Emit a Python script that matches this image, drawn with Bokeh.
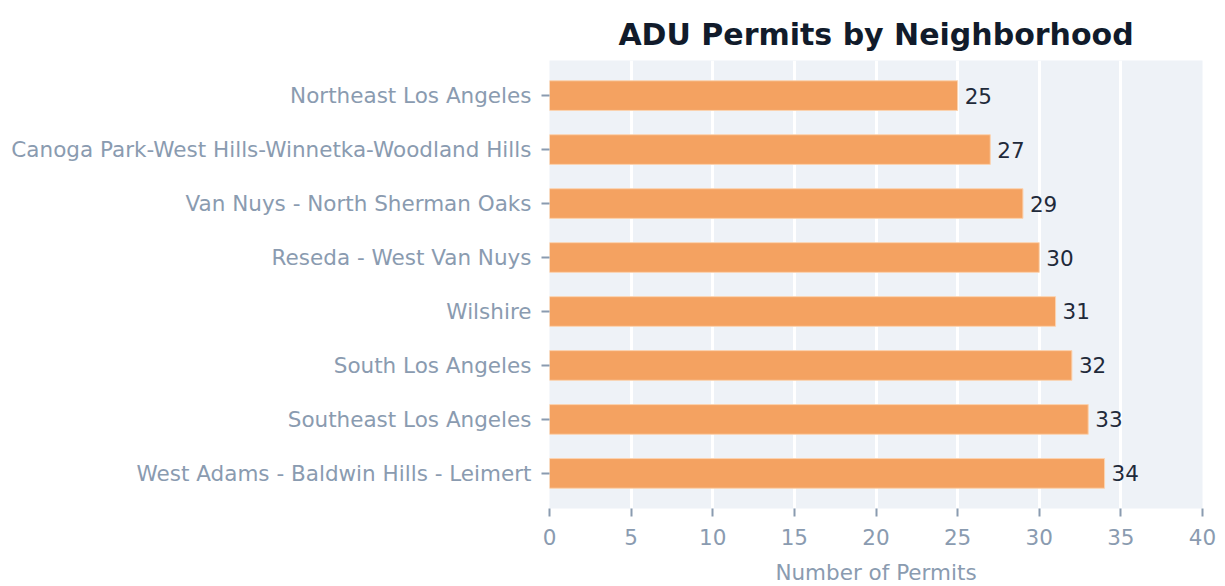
from bokeh.plotting import figure
from bokeh.models import ColumnDataSource, FactorRange, Range1d, LabelSet
from bokeh.core.properties import value
from bokeh.embed import file_html
from bokeh.resources import INLINE

neighborhoods = [
    "Northeast Los Angeles",
    "Canoga Park-West Hills-Winnetka-Woodland Hills",
    "Van Nuys - North Sherman Oaks",
    "Reseda - West Van Nuys",
    "Wilshire",
    "South Los Angeles",
    "Southeast Los Angeles",
    "West Adams - Baldwin Hills - Leimert",
]
permits = [25, 27, 29, 30, 31, 32, 33, 34]
x_ticks = [0, 5, 10, 15, 20, 25, 30, 35, 40]

FONT = "DejaVu Sans"
LABEL_COLOR = "#8a9bb0"
FS = "21.5px"

src = ColumnDataSource(dict(n=neighborhoods, v=permits, t=[str(v) for v in permits]))

p = figure(
    y_range=FactorRange(*reversed(neighborhoods), range_padding=0.15, range_padding_units="absolute"),
    x_range=Range1d(0, 40),
    frame_width=653, frame_height=448,
    min_border_left=549, min_border_right=15, min_border_top=60, min_border_bottom=70,
    output_backend="svg", toolbar_location=None,
    title="ADU Permits by Neighborhood",
)
p.hbar(y="n", right="v", height=0.55, source=src, fill_color="#f4a261",
       line_color="#fbd3b0", line_width=1)
labels = LabelSet(x="v", y="n", text="t", source=src, x_offset=7, y_offset=0,
                  text_baseline="middle", text_font_size=FS, text_color="#1f2a3a",
                  text_font=value(FONT))
p.add_layout(labels)

p.background_fill_color = "#eef2f7"
p.border_fill_color = "white"
p.outline_line_color = None
p.ygrid.grid_line_color = None
p.xgrid.grid_line_color = "white"
p.xgrid.grid_line_width = 3
p.xaxis.ticker = x_ticks

p.title.text_font = FONT
p.title.text_font_size = "30px"
p.title.text_font_style = "bold"
p.title.text_color = "#111b2b"
p.title.align = "center"
p.title.text_line_height = 0.5
p.title.standoff = 18

for ax in (p.xaxis[0], p.yaxis[0]):
    ax.axis_line_color = None
    ax.major_tick_line_color = LABEL_COLOR
    ax.major_tick_line_width = 2
    ax.major_tick_out = 8
    ax.major_tick_in = 0
    ax.minor_tick_line_color = None
    ax.major_label_text_font = FONT
    ax.major_label_text_font_size = FS
    ax.major_label_text_color = LABEL_COLOR

p.xaxis.axis_label = "Number of Permits"
p.xaxis.axis_label_text_font = FONT
p.xaxis.axis_label_text_font_size = FS
p.xaxis.axis_label_text_font_style = "normal"
p.xaxis.axis_label_text_color = LABEL_COLOR
p.xaxis.major_label_standoff = 12
p.yaxis.major_label_standoff = 10
p.xaxis.axis_label_standoff = 12

open("out.html", "w").write(file_html(p, INLINE))
